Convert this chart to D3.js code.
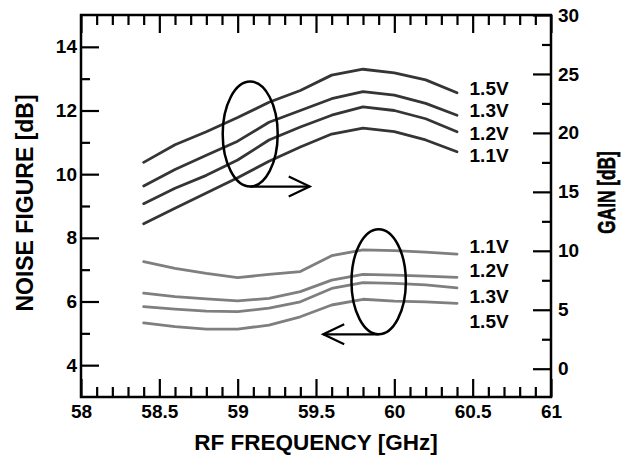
<!DOCTYPE html>
<html>
<head>
<meta charset="utf-8">
<script src="https://cdn.jsdelivr.net/npm/d3@7"></script>
<style>
  html, body { margin: 0; padding: 0; background: #fff; }
  svg text { font-family: "Liberation Sans", Arial, Helvetica, sans-serif; font-weight: bold; fill: #000; }
</style>
</head>
<body>
<svg id="chart" width="627" height="459"></svg>
<script>
// ---- data ----
const freqs = [58.4, 58.6, 58.8, 59.0, 59.2, 59.4, 59.6, 59.8, 60.0, 60.2, 60.4];
const voltages = ["1.5V", "1.3V", "1.2V", "1.1V"];
// Gain [dB] (right axis)
const gain15 = [17.5, 19.0, 20.1, 21.3, 22.6, 23.6, 24.9, 25.4, 25.1, 24.5, 23.4];
const gain13 = [15.5, 16.9, 18.1, 19.3, 20.9, 21.9, 22.9, 23.5, 23.2, 22.5, 21.5];
const gain12 = [14.0, 15.3, 16.4, 17.7, 19.4, 20.5, 21.5, 22.2, 21.9, 21.2, 20.1];
const gain11 = [12.3, 13.6, 14.9, 16.2, 17.6, 18.8, 19.9, 20.4, 20.1, 19.4, 18.4];
// Noise figure [dB] (left axis)
const nf11 = [7.25, 7.04, 6.88, 6.75, 6.85, 6.94, 7.44, 7.62, 7.60, 7.55, 7.49];
const nf12 = [6.26, 6.15, 6.08, 6.02, 6.10, 6.31, 6.67, 6.85, 6.83, 6.80, 6.76];
const nf13 = [5.84, 5.76, 5.70, 5.68, 5.79, 5.99, 6.41, 6.59, 6.57, 6.52, 6.43];
const nf15 = [5.33, 5.21, 5.13, 5.13, 5.26, 5.52, 5.89, 6.07, 6.01, 5.99, 5.94];
// ticks
const xMajorTicks = [58, 58.5, 59, 59.5, 60, 60.5, 61];
const xTickLabels = ["58", "58.5", "59", "59.5", "60", "60.5", "61"];
const nfMajorTicks = [4, 6, 8, 10, 12, 14];
const nfMinorTicks = [5, 7, 9, 11, 13];
const gainMajorTicks = [0, 5, 10, 15, 20, 25, 30];
const gainMinorTicks = [2.5, 7.5, 12.5, 17.5, 22.5, 27.5];

// ---- layout ----
const svg = d3.select("#chart");
const L = 81, R = 551, T = 15, B = 397;
const x = d3.scaleLinear().domain([58, 61]).range([L, R]);
const yNF = d3.scaleLinear().domain([3, 15]).range([B, T]);
const yG = d3.scaleLinear().domain([-2.4, 30]).range([B, T]);
const xMinorTicks = d3.range(581, 610).map(v => v / 10).filter(v => !xMajorTicks.some(m => Math.abs(m - v) < 1e-6));

const fontTick = "19px";

function styleAxis(g) {
  g.select(".domain").remove();
  g.selectAll(".tick line").attr("stroke", "#000").attr("stroke-width", 2.2);
  g.selectAll(".tick text").attr("font-size", fontTick).attr("fill", "#000");
}

// bottom axis
svg.append("g").attr("transform", `translate(0,${B})`)
  .call(d3.axisBottom(x).tickValues(xMajorTicks).tickFormat((d, i) => xTickLabels[i]).tickSizeInner(-18).tickSizeOuter(0).tickPadding(8))
  .call(styleAxis);
svg.append("g").attr("transform", `translate(0,${B})`)
  .call(d3.axisBottom(x).tickValues(xMinorTicks).tickFormat("").tickSizeInner(-10).tickSizeOuter(0))
  .call(styleAxis);
// top axis
svg.append("g").attr("transform", `translate(0,${T})`)
  .call(d3.axisTop(x).tickValues(xMajorTicks).tickFormat("").tickSizeInner(-18).tickSizeOuter(0))
  .call(styleAxis);
svg.append("g").attr("transform", `translate(0,${T})`)
  .call(d3.axisTop(x).tickValues(xMinorTicks).tickFormat("").tickSizeInner(-10).tickSizeOuter(0))
  .call(styleAxis);
// left axis
svg.append("g").attr("transform", `translate(${L},0)`)
  .call(d3.axisLeft(yNF).tickValues(nfMajorTicks).tickFormat(d3.format("d")).tickSizeInner(-18).tickSizeOuter(0).tickPadding(4))
  .call(styleAxis);
svg.append("g").attr("transform", `translate(${L},0)`)
  .call(d3.axisLeft(yNF).tickValues(nfMinorTicks).tickFormat("").tickSizeInner(-9).tickSizeOuter(0))
  .call(styleAxis);
// right axis
svg.append("g").attr("transform", `translate(${R},0)`)
  .call(d3.axisRight(yG).tickValues(gainMajorTicks).tickFormat(d3.format("d")).tickSizeInner(-18).tickSizeOuter(0).tickPadding(7))
  .call(styleAxis);
svg.append("g").attr("transform", `translate(${R},0)`)
  .call(d3.axisRight(yG).tickValues(gainMinorTicks).tickFormat("").tickSizeInner(-9).tickSizeOuter(0))
  .call(styleAxis);

// frame
svg.append("rect").attr("x", L).attr("y", T).attr("width", R - L).attr("height", B - T)
  .attr("fill", "none").attr("stroke", "#000").attr("stroke-width", 2.5);

// ---- lines ----
const gainSeries = [gain15, gain13, gain12, gain11];
const nfSeries = [nf15, nf13, nf12, nf11];
const lineG = d3.line().x((d, i) => x(freqs[i])).y(d => yG(d));
const lineNF = d3.line().x((d, i) => x(freqs[i])).y(d => yNF(d));

svg.append("g").selectAll("path").data(nfSeries).join("path")
  .attr("d", lineNF).attr("fill", "none").attr("stroke", "#7f7f7f").attr("stroke-width", 2.8)
  .attr("stroke-linejoin", "round").attr("stroke-linecap", "round");
svg.append("g").selectAll("path").data(gainSeries).join("path")
  .attr("d", lineG).attr("fill", "none").attr("stroke", "#353535").attr("stroke-width", 2.8)
  .attr("stroke-linejoin", "round").attr("stroke-linecap", "round");

// ---- series labels ----
const labelFreq = 60.48;
const gainLabelPos = [23.22, 21.38, 19.41, 17.57];   // baselines in gain units
const nfLabelOrder = ["1.1V", "1.2V", "1.3V", "1.5V"];
const nfLabelPos = [7.51, 6.78, 5.94, 5.16];        // baselines in NF units
svg.append("g").selectAll("text").data(voltages).join("text")
  .attr("x", x(labelFreq)).attr("y", (d, i) => yG(gainLabelPos[i]))
  .attr("font-size", fontTick).text(d => d);
svg.append("g").selectAll("text").data(nfLabelOrder).join("text")
  .attr("x", x(labelFreq)).attr("y", (d, i) => yNF(nfLabelPos[i]))
  .attr("font-size", fontTick).text(d => d);

// ---- ellipse annotations ----
function arrowHead(g, tx, ty, dir) {
  g.append("path")
    .attr("d", `M${tx - dir * 21},${ty - 10} L${tx},${ty} L${tx - dir * 21},${ty + 10}`)
    .attr("fill", "none").attr("stroke", "#000").attr("stroke-width", 2.2);
}
const ann = svg.append("g");
// gain group ellipse -> right axis
const gE = { f: 59.08, v: 19.9, rf: 0.1755, rv: 4.45, toF: 59.46 };
ann.append("ellipse").attr("cx", x(gE.f)).attr("cy", yG(gE.v))
  .attr("rx", x(gE.f + gE.rf) - x(gE.f)).attr("ry", yG(gE.v - gE.rv) - yG(gE.v))
  .attr("fill", "none").attr("stroke", "#000").attr("stroke-width", 2.5);
ann.append("line").attr("x1", x(gE.f)).attr("y1", yG(gE.v - gE.rv))
  .attr("x2", x(gE.toF)).attr("y2", yG(gE.v - gE.rv)).attr("stroke", "#000").attr("stroke-width", 2.2);
arrowHead(ann, x(gE.toF), yG(gE.v - gE.rv), 1);
// NF group ellipse -> left axis
const nE = { f: 59.9, v: 6.62, rf: 0.1736, rv: 1.65, toF: 59.546 };
ann.append("ellipse").attr("cx", x(nE.f)).attr("cy", yNF(nE.v))
  .attr("rx", x(nE.f + nE.rf) - x(nE.f)).attr("ry", yNF(nE.v - nE.rv) - yNF(nE.v))
  .attr("fill", "none").attr("stroke", "#000").attr("stroke-width", 2.5);
ann.append("line").attr("x1", x(nE.f)).attr("y1", yNF(nE.v - nE.rv))
  .attr("x2", x(nE.toF)).attr("y2", yNF(nE.v - nE.rv)).attr("stroke", "#000").attr("stroke-width", 2.2);
arrowHead(ann, x(nE.toF), yNF(nE.v - nE.rv), -1);

// ---- axis titles ----
svg.append("text").attr("x", (L + R) / 2).attr("y", 450).attr("text-anchor", "middle")
  .attr("font-size", "22.5px").text("RF FREQUENCY [GHz]");
svg.append("text").attr("transform", `translate(33,${(T + B) / 2 - 3}) rotate(-90)`).attr("text-anchor", "middle")
  .attr("font-size", "23px").text("NOISE FIGURE [dB]");
svg.append("text").attr("transform", `translate(615,192.5) rotate(-90) scale(0.72,1)`).attr("text-anchor", "middle")
  .attr("font-size", "24px").attr("stroke", "#000").attr("stroke-width", 0.6).text("GAIN [dB]");
</script>
</body>
</html>
